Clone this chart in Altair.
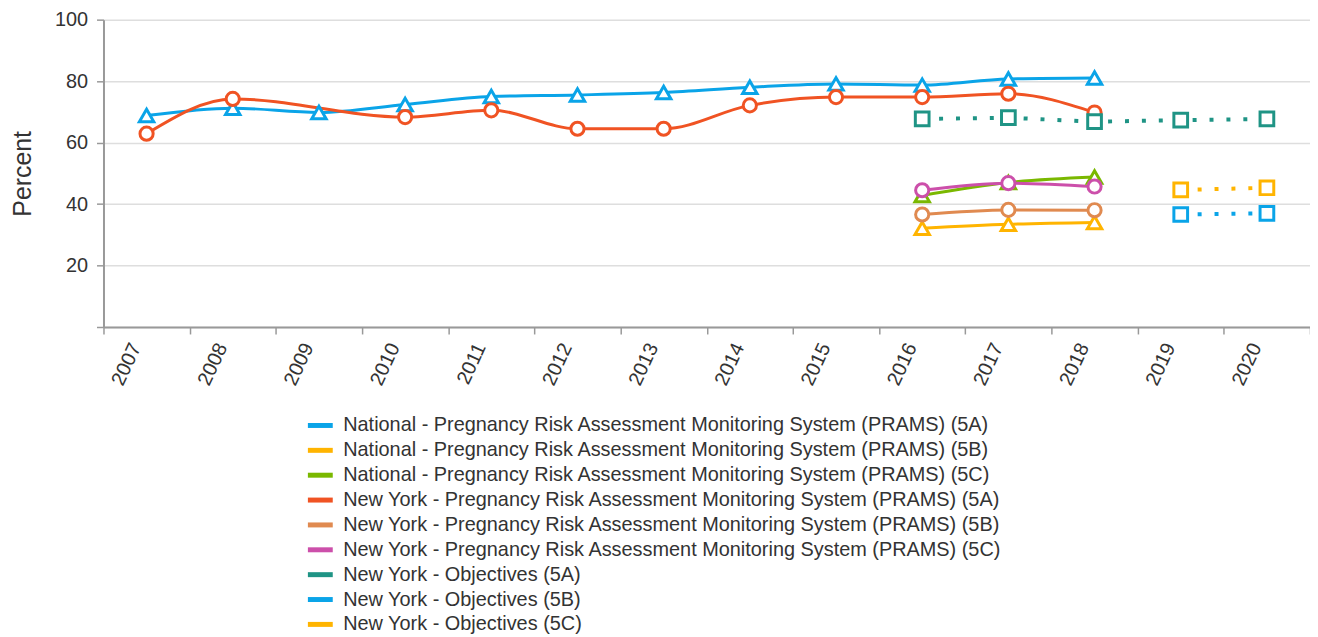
import altair as alt
import pandas as pd

years = ["2007", "2008", "2009", "2010", "2011", "2012", "2013",
         "2014", "2015", "2016", "2017", "2018", "2019", "2020"]

series_names = [
    "National - Pregnancy Risk Assessment Monitoring System (PRAMS) (5A)",
    "National - Pregnancy Risk Assessment Monitoring System (PRAMS) (5B)",
    "National - Pregnancy Risk Assessment Monitoring System (PRAMS) (5C)",
    "New York - Pregnancy Risk Assessment Monitoring System (PRAMS) (5A)",
    "New York - Pregnancy Risk Assessment Monitoring System (PRAMS) (5B)",
    "New York - Pregnancy Risk Assessment Monitoring System (PRAMS) (5C)",
    "New York - Objectives (5A)",
    "New York - Objectives (5B)",
    "New York - Objectives (5C)",
]
series_colors = ["#0AA4E8", "#FFB400", "#7AB800", "#F05323", "#E08A50",
                 "#CC4FAA", "#1F9485", "#0AA4E8", "#FFB400"]

nat_5a = [68.8, 71.2, 69.8, 72.4, 75.0, 75.5, 76.3, 78.0, 79.1, 78.7, 80.7, 81.0, None, None]
nat_5b = [None] * 9 + [32.1, 33.4, 34.0, None, None]
nat_5c = [None] * 9 + [42.8, 47.0, 48.8, None, None]
ny_5a = [62.9, 74.2, None, 68.3, 70.5, 64.5, 64.5, 72.1, 74.8, 74.8, 75.9, 69.8, None, None]
ny_5b = [None] * 9 + [36.6, 38.1, 38.0, None, None]
ny_5c = [None] * 9 + [44.5, 46.8, 45.7, None, None]
obj_5a = [None] * 9 + [67.7, 68.1, 66.8, 67.3, 67.7]
obj_5b = [None] * 12 + [36.6, 37.0]
obj_5c = [None] * 12 + [44.6, 45.3]

all_values = [nat_5a, nat_5b, nat_5c, ny_5a, ny_5b, ny_5c, obj_5a, obj_5b, obj_5c]
line_style = ["solid"] * 6 + ["dotted"] * 3
marker = ["tri"] * 3 + ["circ"] * 3 + ["sq"] * 3

rows = []
for i, (name, vals) in enumerate(zip(series_names, all_values)):
    for y, v in zip(years, vals):
        if v is not None:
            rows.append({"series": name, "year": y, "value": v, "order": i,
                         "style": line_style[i], "marker": marker[i]})
df = pd.DataFrame(rows)

x_enc = alt.X("year:O", bandPosition=0.5,
              scale=alt.Scale(type="band", domain=years, paddingInner=0, paddingOuter=0),
              axis=alt.Axis(title=None, labelAngle=-65, tickBand="extent", grid=False,
                            labelFontSize=20, labelColor="#333333", labelPadding=10,
                            labelOffset=-11,
                            tickSize=7, domainColor="#999999", domainWidth=2,
                            tickColor="#999999", tickWidth=1.5))
y_enc = alt.Y("value:Q", scale=alt.Scale(domain=[0, 100], nice=False),
              axis=alt.Axis(title="Percent", values=[0, 20, 40, 60, 80, 100],
                            labelExpr="datum.value == 0 ? '' : datum.label",
                            titleFontSize=25, titleFontWeight="normal", titleColor="#333333",
                            titlePadding=19, labelFontSize=20, labelColor="#333333",
                            labelPadding=9, tickSize=7, tickColor="#999999", tickWidth=1.5,
                            domainColor="#999999", domainWidth=2,
                            gridColor="#dedede", gridWidth=1.5))
stroke_enc = alt.Stroke("series:N",
                        scale=alt.Scale(domain=series_names, range=series_colors),
                        legend=alt.Legend(title=None, orient="none", legendX=203, legendY=393,
                                          direction="vertical", columns=1,
                                          symbolType="stroke", symbolSize=625,
                                          symbolStrokeWidth=5, labelFontSize=20,
                                          labelColor="#333333", labelOffset=8,
                                          rowPadding=0, labelLimit=1000))

base = alt.Chart(df).encode(x=x_enc, y=y_enc, stroke=stroke_enc)

solid = base.transform_filter(alt.datum.style == "solid").mark_line(
    interpolate="monotone", strokeWidth=3).encode(detail="series:N", order="year:O")
dotted = base.transform_filter(alt.datum.style == "dotted").mark_line(
    strokeWidth=4, strokeDash=[4, 13]).encode(detail="series:N", order="year:O")
tri = base.transform_filter(alt.datum.marker == "tri").mark_point(
    shape="triangle-up", filled=True, fill="white", strokeWidth=3, size=210, opacity=1)
circ = base.transform_filter(alt.datum.marker == "circ").mark_point(
    shape="circle", filled=True, fill="white", strokeWidth=3, size=175, opacity=1)
sq = base.transform_filter(alt.datum.marker == "sq").mark_point(
    shape="square", filled=True, fill="white", strokeWidth=3, size=190, opacity=1)

chart = alt.layer(solid, dotted, tri, circ, sq).properties(
    width=1213, height=309,
    autosize=alt.AutoSizeParams(type="none"),
    padding={"left": 96, "top": 10, "right": 0, "bottom": 318},
).configure(font="Liberation Sans").configure_view(strokeWidth=0)

chart.save("out.html", embed_options={"renderer": "svg", "actions": False})
